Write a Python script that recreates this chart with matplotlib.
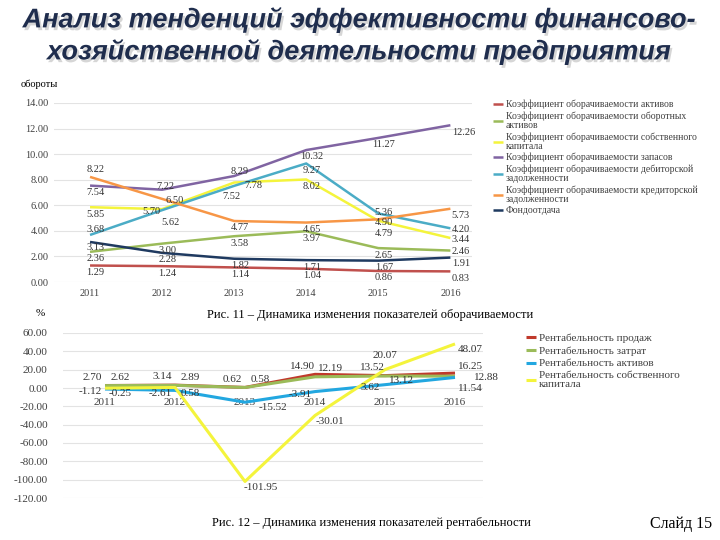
import matplotlib
matplotlib.use("Agg")
import matplotlib.pyplot as plt
import matplotlib.patheffects as pe
from matplotlib.ticker import FormatStrFormatter

years = ['2011', '2012', '2013', '2014', '2015', '2016']

# top chart - turnover ratios
k_assets = [1.29, 1.24, 1.14, 1.04, 0.86, 0.83]
k_current = [2.36, 3.00, 3.58, 3.97, 2.65, 2.46]
k_equity = [5.85, 5.70, 7.78, 8.02, 4.79, 3.44]
k_stock = [7.54, 7.22, 8.29, 10.32, 11.27, 12.26]
k_receiv = [3.68, 5.62, 7.52, 9.27, 5.36, 4.20]
k_payable = [8.22, 6.50, 4.77, 4.65, 4.90, 5.73]
k_fixed = [3.13, 2.28, 1.82, 1.71, 1.67, 1.91]

top_names = ['Коэффициент оборачиваемости активов',
             'Коэффициент оборачиваемости оборотных\nактивов',
             'Коэффициент оборачиваемости собственного\nкапитала',
             'Коэффициент оборачиваемости запасов',
             'Коэффициент оборачиваемости дебиторской\nзадолженности',
             'Коэффициент оборачиваемости кредиторской\nзадолженности',
             'Фондоотдача']

# bottom chart - profitability, %
r_sales = [2.70, 3.14, 0.62, 14.90, 13.52, 16.25]
r_costs = [2.62, 2.89, 0.58, 12.19, 13.12, 12.88]
r_assets = [-1.12, -2.61, -15.52, -3.91, 3.62, 11.54]
r_equity = [-0.25, 0.58, -101.95, -30.01, 20.07, 48.07]

bottom_names = ['Рентабельность продаж', 'Рентабельность затрат',
                'Рентабельность активов', 'Рентабельность собственного\nкапитала']

top_colors = ['#C0504D', '#9BBB59', '#F4F43C', '#8064A2', '#4BACC6', '#F79646', '#1F3A60']
bottom_colors = ['#C0392B', '#9BBB59', '#22A7E0', '#F4F43C']

# label offsets in points (series index, year index) -> (dx, dy)
top_nudge = {(5, 0): (4, 5), (4, 0): (4, 4), (6, 0): (4, -4),
             (3, 1): (2, 2), (5, 1): (9, -1), (2, 1): (-8, -2), (4, 1): (6, -9),
             (3, 2): (4, 3), (2, 2): (14, -2), (4, 2): (-2, -8),
             (4, 4): (4, 1), (5, 4): (4, -2), (2, 4): (4, -9),
             (4, 5): (1, -1), (2, 5): (1, -1), (1, 5): (1, -1), (6, 5): (1, -4)}
bottom_default = [(-9, 6), (11, 6), (-11, -2), (11, -4)]
bottom_nudge = {(2, 2): (20, -4), (3, 4): (0, 10), (1, 4): (12, -3),
                (0, 5): (2, 5), (1, 5): (14, -1), (2, 5): (2, -8), (3, 5): (2, -4)}

SERIF = 'Liberation Serif'
W, H = 720, 540


def px_axes(fig, left, top, width, height):
    return fig.add_axes([left / W, 1 - (top + height) / H, width / W, height / H])


def style_axes(ax, size):
    for s in ax.spines.values():
        s.set_visible(False)
    ax.tick_params(length=0, labelsize=size, labelcolor='#404040', labelfontfamily=SERIF)
    ax.yaxis.grid(True, color='#E3E3E3', linewidth=0.8)
    ax.set_axisbelow(True)
    ax.yaxis.set_major_formatter(FormatStrFormatter('%.2f'))


fig = plt.figure(figsize=(7.2, 5.4), dpi=100)

# title
title_color = '#1F2D4D'
shadow = [pe.SimplePatchShadow(offset=(1.5, -2), shadow_rgbFace='#8A8A8A', alpha=0.35), pe.Normal()]
for ty, line in [(20, 'Анализ тенденций эффективности финансово-'),
                 (52, 'хозяйственной деятельности предприятия')]:
    fig.text(0.5, 1 - ty / H, line, ha='center', va='center', fontsize=19.5,
             fontweight='bold', fontstyle='italic', family='Liberation Sans',
             color=title_color, path_effects=shadow)

# ---- top chart
ax1 = px_axes(fig, 54, 103, 418, 179)
x = list(range(len(years)))
top_series = [k_assets, k_current, k_equity, k_stock, k_receiv, k_payable, k_fixed]
for s, (vals, col, name) in enumerate(zip(top_series, top_colors, top_names)):
    ax1.plot(x, vals, color=col, linewidth=1.8, label=name, solid_capstyle='butt')
    for i, v in enumerate(vals):
        last = i == len(vals) - 1
        dx, dy = top_nudge.get((s, i), (1 if last else 4, -5))
        ax1.annotate('%.2f' % v, (i, v), xytext=(dx, dy), textcoords='offset points',
                     ha='left' if last else 'center', va='center', fontsize=7.5,
                     family=SERIF, color='#333333')
ax1.set_xlim(-0.5, 5.3)
ax1.set_ylim(0, 14)
ax1.set_yticks(range(0, 15, 2))
ax1.set_xticks(x)
ax1.set_xticklabels(years)
style_axes(ax1, 7.5)
ax1.tick_params(axis='y', pad=4)
ax1.tick_params(axis='x', pad=5)

fig.text(21 / W, 1 - 84 / H, 'обороты', ha='left', va='center', fontsize=7.5, family=SERIF)

leg1 = fig.legend(*ax1.get_legend_handles_labels(), loc='upper left',
                  bbox_to_anchor=(488 / W, 1 - 95 / H), frameon=False,
                  handlelength=1.0, handletextpad=0.3, labelspacing=0.25, borderpad=0,
                  prop={'family': SERIF, 'size': 7})
for t in leg1.get_texts():
    t.set_linespacing(0.95)
    t.set_color('#404040')

fig.text(370 / W, 1 - 315 / H, 'Рис. 11 – Динамика изменения показателей оборачиваемости',
         ha='center', va='center', fontsize=9, family=SERIF)
fig.text(40 / W, 1 - 313 / H, '%', ha='center', va='center', fontsize=8, family=SERIF)

# ---- bottom chart
ax2 = px_axes(fig, 63, 333, 420, 165)
bottom_series = [r_sales, r_costs, r_assets, r_equity]
for s, (vals, col, name) in enumerate(zip(bottom_series, bottom_colors, bottom_names)):
    ax2.plot(x, vals, color=col, linewidth=2.2, label=name, solid_capstyle='butt')
    for i, v in enumerate(vals):
        last = i == len(vals) - 1
        dx, dy = bottom_nudge.get((s, i), bottom_default[s])
        ax2.annotate('%.2f' % v, (i, v), xytext=(dx, dy), textcoords='offset points',
                     ha='left' if last else 'center', va='center', fontsize=8,
                     family=SERIF, color='#333333')
ax2.set_xlim(-0.6, 5.4)
ax2.set_ylim(-120, 60)
ax2.set_yticks(range(-120, 61, 20))
ax2.set_xticks(x)
ax2.set_xticklabels(years)
style_axes(ax2, 8)
ax2.spines['bottom'].set_position(('data', 0))
ax2.tick_params(axis='y', pad=11)
ax2.tick_params(axis='x', pad=7)

leg2 = fig.legend(*ax2.get_legend_handles_labels(), loc='upper left',
                  bbox_to_anchor=(520 / W, 1 - 328 / H), frameon=False,
                  handlelength=0.9, handletextpad=0.3, labelspacing=0.25, borderpad=0,
                  prop={'family': SERIF, 'size': 8})
for t in leg2.get_texts():
    t.set_linespacing(0.95)
    t.set_color('#404040')

fig.text(371 / W, 1 - 523 / H, 'Рис. 12 – Динамика изменения показателей рентабельности',
         ha='center', va='center', fontsize=9, family=SERIF)
fig.text(712 / W, 1 - 524 / H, 'Слайд 15', ha='right', va='center', fontsize=11.5, family=SERIF)

fig.savefig('out.png', dpi=100)
